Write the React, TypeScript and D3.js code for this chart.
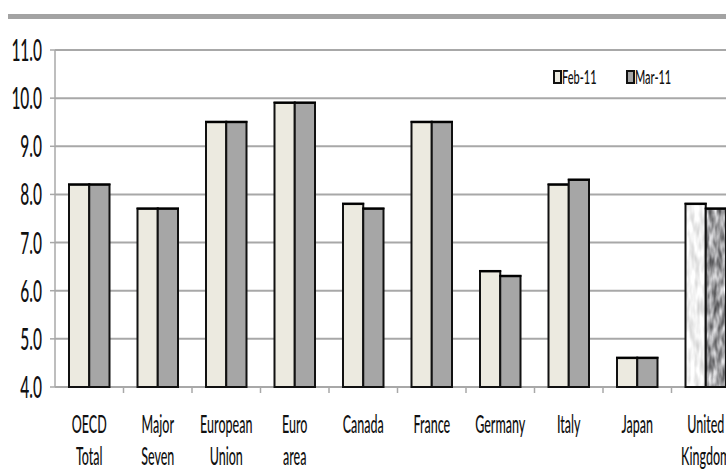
import React from "react";
import * as d3 from "d3";

// Harmonised unemployment rates, %, by area
const categories = [
  "OECD\nTotal",
  "Major\nSeven",
  "European\nUnion",
  "Euro\narea",
  "Canada",
  "France",
  "Germany",
  "Italy",
  "Japan",
  "United\nKingdom",
];
const seriesNames = ["Feb-11", "Mar-11"];
const feb11 = [8.2, 7.7, 9.5, 9.9, 7.8, 9.5, 6.4, 8.2, 4.6, 7.8];
const mar11 = [8.2, 7.7, 9.5, 9.9, 7.7, 9.5, 6.3, 8.3, 4.6, 7.7];
const yTicks = [4, 5, 6, 7, 8, 9, 10, 11];
const texturedCategories = ["United\nKingdom"];

const W = 726;
const H = 469;
const FONT = "Lato, 'Open Sans', sans-serif";

const fills = ["#ECEAE0", "#A6A6A6"];
const texFilters = ["url(#texLight)", "url(#texDark)"];

export default function App() {
  const x = d3.scaleBand<string>().domain(categories).range([55, 740]).padding(0);
  const xs = d3.scaleBand<number>().domain([0, 1]).range([14, 54.5]).padding(0);
  const y = d3.scaleLinear().domain([4, 11]).range([387, 50]);
  const fmt = d3.format(".1f");
  const series = [feb11, mar11];
  const step = x.step();

  return (
    <svg width={W} height={H} style={{ position: "absolute", left: 0, top: 0 }}>
      <defs>
        <filter id="texLight" x="0" y="0" width="1" height="1" colorInterpolationFilters="sRGB">
          <feTurbulence type="fractalNoise" baseFrequency="0.2 0.06" numOctaves={2} seed={3} result="n" />
          <feColorMatrix
            in="n"
            type="matrix"
            values="0.35 0 0 0 0.77  0.35 0 0 0 0.77  0.35 0 0 0 0.77  0 0 0 0 1"
            result="g"
          />
          <feComposite in="g" in2="SourceGraphic" operator="in" />
        </filter>
        <filter id="texDark" x="0" y="0" width="1" height="1" colorInterpolationFilters="sRGB">
          <feTurbulence type="fractalNoise" baseFrequency="0.22 0.07" numOctaves={2} seed={7} result="n" />
          <feColorMatrix
            in="n"
            type="matrix"
            values="1.0 0 0 0 0.12  1.0 0 0 0 0.12  1.0 0 0 0 0.13  0 0 0 0 1"
            result="g"
          />
          <feComposite in="g" in2="SourceGraphic" operator="in" />
        </filter>
      </defs>
      <rect width={W} height={H} fill="#fff" />
      {/* heading rule */}
      <rect x={8} y={14} width={W - 8} height={5} fill="#a3a3a3" />

      {/* gridlines */}
      {yTicks.map((t) => (
        <line key={t} x1={55} x2={W} y1={y(t)} y2={y(t)} stroke="#a8a8a8" strokeWidth={2} />
      ))}
      {/* y axis */}
      <line x1={55} x2={55} y1={y(11)} y2={y(4)} stroke="#a8a8a8" strokeWidth={1.5} />
      {yTicks.map((t) => (
        <g key={"yt" + t}>
          <line x1={50} x2={55} y1={y(t)} y2={y(t)} stroke="#a8a8a8" strokeWidth={1.5} />
          <text
            transform={`translate(42,${y(t) + 11}) scale(0.5,1)`}
            textAnchor="end"
            fontFamily={FONT}
            fontWeight={500}
            fontSize={31}
            fill="#111"
          >
            {fmt(t)}
          </text>
        </g>
      ))}

      {/* x ticks */}
      {categories.map((c) => (
        <line
          key={"xt" + c}
          x1={(x(c) as number) + step}
          x2={(x(c) as number) + step}
          y1={y(4)}
          y2={y(4) + 6}
          stroke="#a8a8a8"
          strokeWidth={1.5}
        />
      ))}

      {/* bars */}
      {categories.map((c, i) => {
        const textured = texturedCategories.includes(c);
        return (
          <g key={"b" + c}>
            {series.map((s, j) => {
              const bx = (x(c) as number) + (xs(j) as number);
              const bw = xs.bandwidth();
              const top = y(s[i]);
              const h = y(4) - top;
              return (
                <g key={j}>
                  {textured ? (
                    <rect x={bx} y={top} width={bw} height={h} fill="#000" filter={texFilters[j]} />
                  ) : (
                    <rect x={bx} y={top} width={bw} height={h} fill={fills[j]} />
                  )}
                  <rect x={bx} y={top} width={bw} height={h} fill="none" stroke="#111" strokeWidth={2} />
                  <line x1={bx - 1} x2={bx + bw + 1} y1={top - 0.5} y2={top - 0.5} stroke="#000" strokeWidth={2} />
                </g>
              );
            })}
          </g>
        );
      })}

      {/* category labels */}
      {categories.map((c) => {
        const cx = (x(c) as number) + step / 2;
        return c.split("\n").map((line, k) => (
          <text
            key={c + k}
            transform={`translate(${cx},${433 + k * 32}) scale(0.5,1)`}
            textAnchor="middle"
            fontFamily={FONT}
            fontWeight={500}
            fontSize={25}
            fill="#111"
          >
            {line}
          </text>
        ));
      })}

      {/* legend */}
      {seriesNames.map((n, j) => {
        const lx = 554 + j * 73;
        return (
          <g key={n}>
            <rect x={lx} y={71} width={7} height={12} fill={fills[j]} stroke="#111" strokeWidth={2} />
            <text
              transform={`translate(${lx + 8},84) scale(0.55,1)`}
              fontFamily={FONT}
              fontWeight={500}
              fontSize={20}
              fill="#111"
            >
              {n}
            </text>
          </g>
        );
      })}
    </svg>
  );
}
